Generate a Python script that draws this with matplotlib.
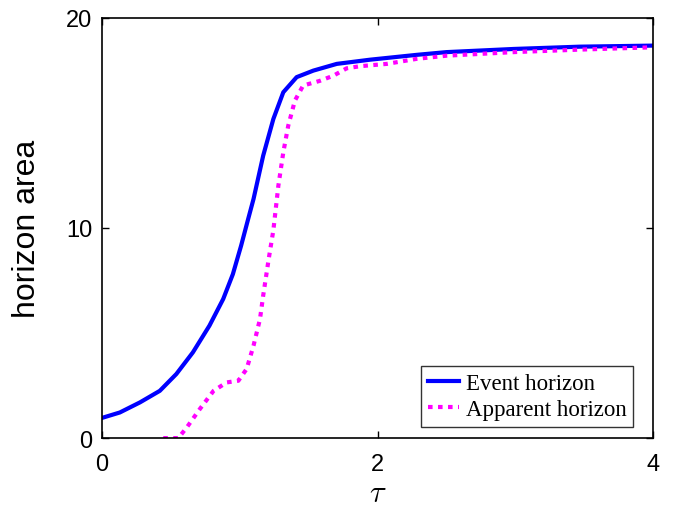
import numpy as np
import matplotlib
matplotlib.use('Agg')
import matplotlib.pyplot as plt

# event horizon area vs tau
tau_event = [0.0, 0.13, 0.276, 0.42, 0.54, 0.66, 0.78, 0.88, 0.95, 1.01,
             1.06, 1.10, 1.17, 1.244, 1.316, 1.413, 1.534, 1.704, 1.946,
             2.284, 2.50, 2.986, 3.47, 4.0]
area_event = [0.96, 1.22, 1.70, 2.25, 3.05, 4.08, 5.35, 6.62, 7.8, 9.16,
              10.4, 11.38, 13.44, 15.19, 16.46, 17.18, 17.49, 17.81, 18.01,
              18.24, 18.37, 18.52, 18.63, 18.68]

# apparent horizon area vs tau
tau_app = [0.445, 0.554, 0.615, 0.71, 0.81, 0.905, 0.99, 1.05, 1.10, 1.147,
           1.17, 1.21, 1.244, 1.28, 1.316, 1.352, 1.40, 1.46, 1.58, 1.68,
           1.776, 1.873, 2.067, 2.284, 2.50, 2.986, 3.47, 4.0]
area_app = [0.0, 0.0, 0.5, 1.38, 2.25, 2.65, 2.73, 3.29, 4.4, 5.67,
            6.78, 8.52, 9.9, 12.0, 13.6, 14.87, 16.06, 16.78, 17.0, 17.25,
            17.6, 17.7, 17.81, 18.05, 18.2, 18.37, 18.49, 18.6]

plt.rcParams['font.family'] = ['Liberation Sans', 'DejaVu Sans']
plt.rcParams['mathtext.fontset'] = 'cm'

fig = plt.figure(figsize=(6.84, 5.1), dpi=100)
ax = fig.add_axes([0.149, 0.139, 0.806, 0.824])

ax.plot(tau_event, area_event, color='#0000ff', lw=3.0, label='Event horizon',
        solid_joinstyle='round')
ax.plot(tau_app, area_app, color='#ff00ff', lw=3.0, ls=(0, (1.1, 1.3)),
        label='Apparent horizon')

ax.set_xlim(0, 4)
ax.set_ylim(0, 20)
ax.set_xticks([0, 2, 4])
ax.set_yticks([0, 10, 20])
ax.tick_params(direction='in', top=True, right=True, labelsize=17, length=5, width=1)
ax.tick_params(axis='x', pad=11)
ax.tick_params(axis='y', pad=7)
for s in ax.spines.values():
    s.set_linewidth(1.2)

ax.set_xlabel(r'$\tau$', fontsize=22, labelpad=2)
ax.set_ylabel('horizon area', fontsize=23, labelpad=17)

leg = ax.legend(loc='lower right', bbox_to_anchor=(0.964, 0.026),
                prop={'family': 'Liberation Serif', 'size': 16.5},
                fancybox=False, edgecolor='black', handlelength=1.35,
                borderaxespad=0, borderpad=0.3, labelspacing=0.25,
                handletextpad=0.3)
leg.get_frame().set_linewidth(1.0)

fig.savefig('out.png', dpi=100)
